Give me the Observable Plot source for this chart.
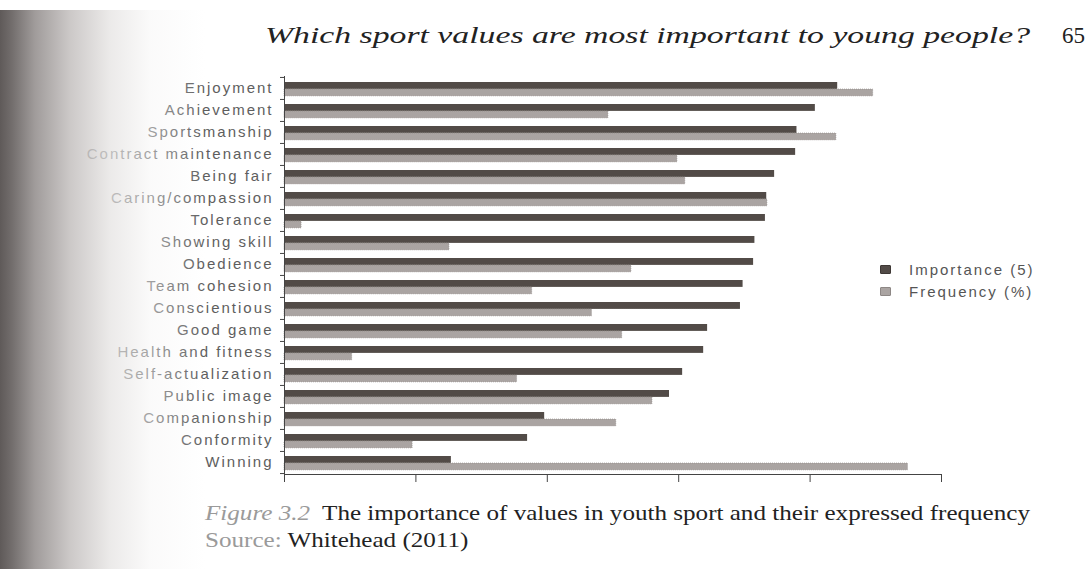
<!DOCTYPE html>
<html>
<head>
<meta charset="utf-8">
<script src="https://cdn.jsdelivr.net/npm/d3@7"></script>
<script src="https://cdn.jsdelivr.net/npm/@observablehq/plot@0.6"></script>
<style>
  html, body { margin: 0; padding: 0; background: #fff; }
  #page { position: relative; width: 1090px; height: 569px; overflow: hidden; background: #fff; }
  #title { position: absolute; left: 265px; top: 23px; font-family: "Liberation Serif", "Times New Roman", serif; font-style: italic; font-size: 23px; color: #222; white-space: nowrap; transform-origin: left top; }
  #pagenum { position: absolute; left: 1062px; top: 23px; font-family: "Liberation Serif", serif; font-size: 23px; color: #222; }
  #chart { position: absolute; left: 0; top: 56px; }
  #chart svg text { letter-spacing: 2px; }
  #legend { position: absolute; left: 880px; top: 258px; font-family: "Liberation Sans", Arial, sans-serif; font-size: 15px; color: #555; letter-spacing: 2px; }
  #legend div { height: 22px; display: flex; align-items: center; }
  #legend span.sw { display: inline-block; width: 9px; height: 7px; margin-right: 18px; border-radius: 1px; }
  #caption { position: absolute; left: 205px; top: 499px; font-family: "Liberation Serif", "Times New Roman", serif; font-size: 22px; color: #222; white-space: nowrap; line-height: 27px; transform-origin: left top; }
  #caption .faint { color: #9a9a9a; font-style: italic; }
  #shade { position: absolute; left: 0; top: 10px; width: 230px; bottom: 0; pointer-events: none;
    background: linear-gradient(to right, rgba(95,90,89,1) 0px, rgba(110,105,104,0.97) 12px, rgba(150,145,144,0.9) 35px, rgba(195,191,190,0.85) 70px, rgba(228,226,225,0.72) 110px, rgba(245,244,244,0.45) 150px, rgba(255,255,255,0) 205px); }
</style>
</head>
<body>
<div id="page">
  <div id="title">Which sport values are most important to young people?</div>
  <div id="pagenum">65</div>
  <div id="chart"></div>
  <div id="legend"></div>
  <div id="caption"><span class="faint">Figure 3.2</span>&nbsp; The importance of values in youth sport and their expressed frequency<br><span class="faint" style="font-style:normal">Source:</span> Whitehead (2011)</div>
  <div id="shade"></div>
</div>
<script>
const categories = ["Enjoyment", "Achievement", "Sportsmanship", "Contract maintenance", "Being fair", "Caring/compassion", "Tolerance", "Showing skill", "Obedience", "Team cohesion", "Conscientious", "Good game", "Health and fitness", "Self-actualization", "Public image", "Companionship", "Conformity", "Winning"];
const importance = [4.21, 4.04, 3.90, 3.89, 3.73, 3.67, 3.66, 3.58, 3.57, 3.49, 3.47, 3.22, 3.19, 3.03, 2.93, 1.98, 1.85, 1.27];
const frequency = [89.6, 49.3, 84.0, 59.8, 61.0, 73.5, 2.6, 25.1, 52.8, 37.7, 46.8, 51.4, 10.3, 35.4, 56.0, 50.5, 19.5, 94.9];
const seriesNames = ["Importance (5)", "Frequency (%)"];
const seriesColors = ["#524b47", "#aaa4a2"];
const xTicks = [0, 1, 2, 3, 4, 5];

const impData = categories.map((c, i) => ({category: c, value: importance[i]}));
// frequency drawn on the same axis: 100% spans the same length as 5 importance points
const freqData = categories.map((c, i) => ({category: c, value: frequency[i] / 20}));

const band = 398 / categories.length;

const chart = Plot.plot({
  width: 1090,
  height: 448,
  marginLeft: 284,
  marginRight: 149,
  marginTop: 20,
  marginBottom: 30,
  style: {fontFamily: "'Liberation Sans', Arial, sans-serif", fontSize: "15px", color: "#555", background: "transparent"},
  x: {domain: [0, 5], axis: null},
  y: {domain: categories, padding: 0, axis: null},
  marks: [
    Plot.barX(impData, {x: "value", y: "category", fill: seriesColors[0], insetTop: 5, insetBottom: band - 12}),
    Plot.barX(freqData, {x: "value", y: "category", fill: seriesColors[1], stroke: "#8d8785", strokeWidth: 0.6, strokeDasharray: "1,1", insetTop: 12, insetBottom: band - 19}),
    Plot.axisY({tickSize: 0, tickPadding: 11, fill: "#5e5e5e", label: null}),
    Plot.axisY({tickSize: 4, tickFormat: () => "", dy: -band / 2, stroke: "#444", label: null}),
    Plot.axisY([categories[categories.length - 1]], {tickSize: 4, tickFormat: () => "", dy: band / 2, stroke: "#444", label: null}),
    Plot.axisX({ticks: xTicks, tickSize: 8, tickFormat: () => "", stroke: "#444", label: null}),
    Plot.frame({anchor: "left", stroke: "#444"}),
    Plot.frame({anchor: "bottom", stroke: "#444"})
  ]
});
document.getElementById("chart").appendChild(chart);

const legend = document.getElementById("legend");
seriesNames.forEach((name, i) => {
  const row = document.createElement("div");
  const sw = document.createElement("span");
  sw.className = "sw";
  sw.style.background = seriesColors[i];
  sw.style.border = "1px solid " + (i === 0 ? "#3e3835" : "#8d8785");
  row.appendChild(sw);
  row.appendChild(document.createTextNode(name));
  legend.appendChild(row);
});

// stretch the serif texts horizontally like the scanned page
function fitWidth(id, target) {
  const el = document.getElementById(id);
  const w = el.getBoundingClientRect().width;
  el.style.transform = "scaleX(" + (target / w) + ")";
}
fitWidth("title", 1030 - 265);
fitWidth("caption", 1030 - 205);
</script>
</body>
</html>
